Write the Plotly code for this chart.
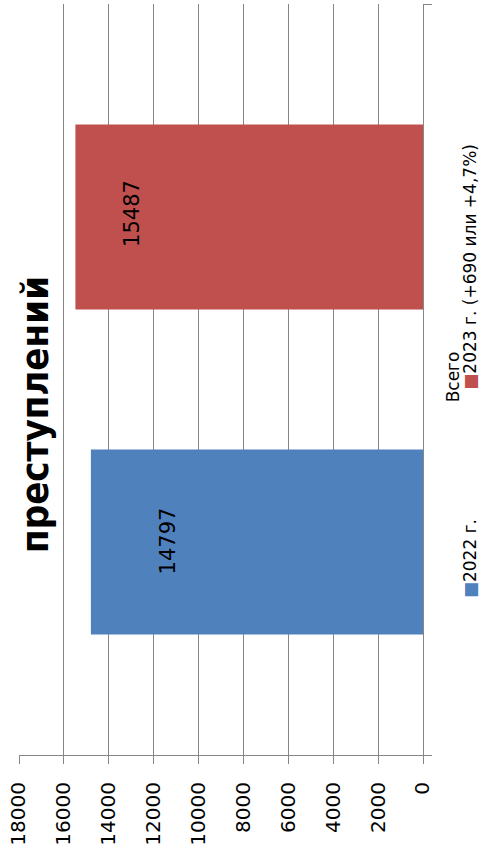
import plotly.graph_objects as go

# ---- data ----
category = "Всего"
series_names = ["2022 г.", "2023 г. (+690 или +4,7%)"]
series_values = [14797, 15487]
title_text = "преступлений"
tick_values = [0, 2000, 4000, 6000, 8000, 10000, 12000, 14000, 16000, 18000]
tick_labels = ["0", "2000", "4000", "6000", "8000", "10000", "12000", "14000", "16000", "18000"]

# ---- style ----
colors = ["#4F81BD", "#C0504D"]
label_xshift = [77, 56]
label_yshift = [-161, 166]
legend_y = [0.262, 0.65]
grid = "#868686"
FONT = "DejaVu Sans"

fig = go.Figure()
for name, val, col in zip(series_names, series_values, colors):
    fig.add_trace(go.Bar(
        name=name, y=[category], x=[val], orientation="h",
        marker=dict(color=col, line=dict(width=0)), showlegend=False,
        hoverinfo="skip",
    ))

# data labels
for val, xs, ys in zip(series_values, label_xshift, label_yshift):
    fig.add_annotation(x=val, y=category, xref="x", yref="y", text=str(val),
                       showarrow=False, textangle=-90, xshift=xs, yshift=ys,
                       xanchor="center", yanchor="middle",
                       font=dict(family=FONT, size=21, color="black"))

# legend entries (rotated)
for name, col, ly in zip(series_names, colors, legend_y):
    fig.add_annotation(x=1.116, y=ly, xref="paper", yref="paper",
                       text=f"<span style='color:{col}'>■</span>{name}",
                       showarrow=False, textangle=-90,
                       xanchor="center", yanchor="middle",
                       font=dict(family=FONT, size=17, color="black"))

# title (rotated)
fig.add_annotation(x=0.04, y=0.453, xref="paper", yref="paper", text=f"<b>{title_text}</b>",
                   showarrow=False, textangle=-90,
                   xanchor="center", yanchor="middle",
                   font=dict(family="DejaVu Sans Condensed, DejaVu Sans", size=38, color="black"))

fig.update_layout(
    width=481, height=849,
    margin=dict(l=19, r=58, t=4, b=94),
    paper_bgcolor="white", plot_bgcolor="white",
    barmode="group", bargap=0.1345, bargroupgap=0.4308,
    xaxis=dict(range=[18000, 0], tickvals=tick_values, ticktext=tick_labels,
               showgrid=True, gridcolor=grid, gridwidth=1.2, zeroline=False,
               showline=True, linecolor=grid, linewidth=1.2,
               ticks="outside", ticklen=8, tickcolor=grid, tickangle=-90,
               ticklabelstandoff=10,
               tickfont=dict(family=FONT, size=20, color="black")),
    yaxis=dict(type="category", side="right", showgrid=False, zeroline=False,
               showline=True, linecolor=grid, linewidth=1.2,
               ticks="outside", ticklen=8, tickcolor=grid, tickson="boundaries",
               tickangle=-90, ticklabelstandoff=14,
               tickfont=dict(family=FONT, size=17, color="black")),
)

fig.write_html("out.html", config={"displayModeBar": False},
               post_script="document.body.style.margin='0px';document.body.style.overflow='hidden';")
